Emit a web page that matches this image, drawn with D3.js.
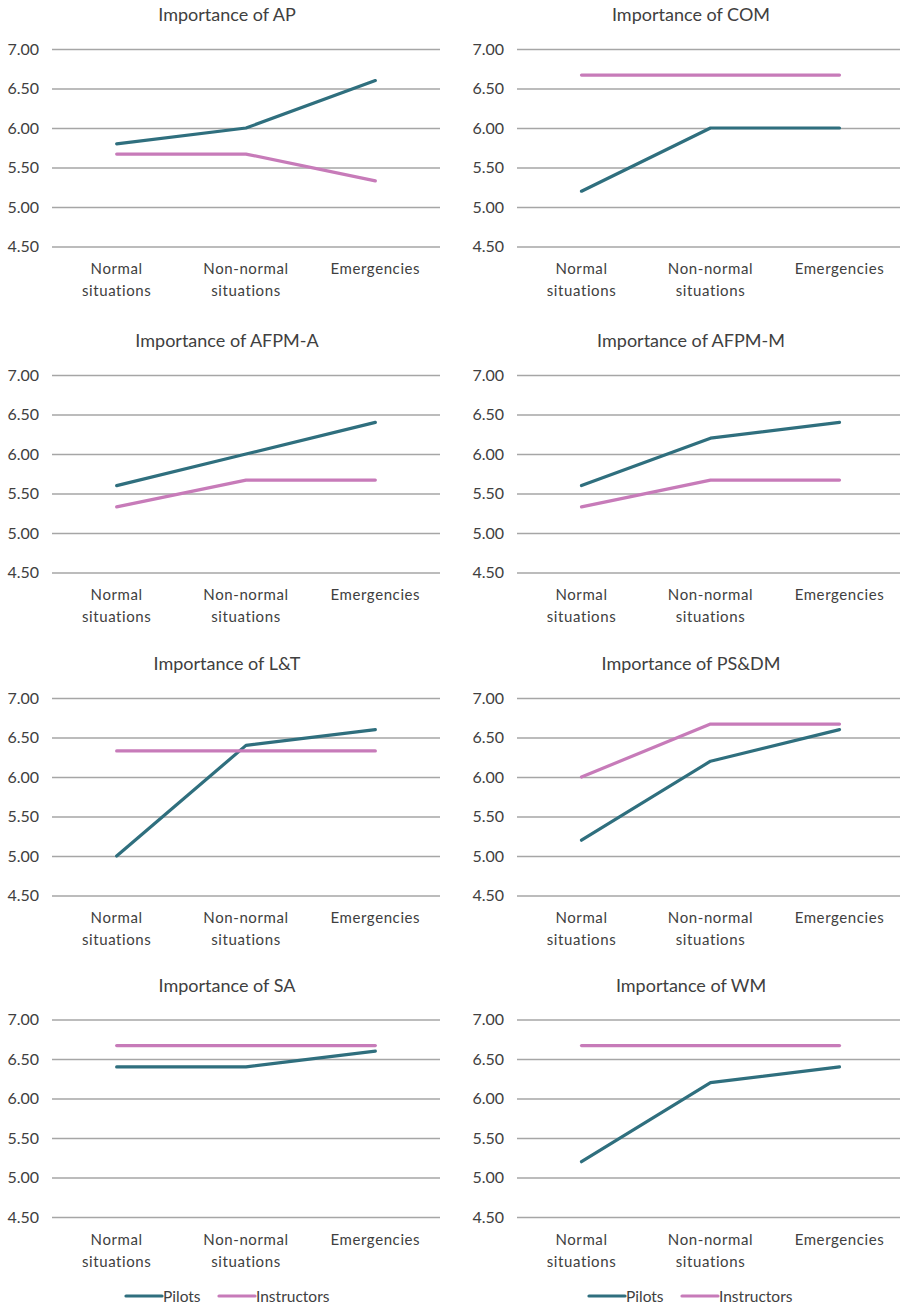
<!DOCTYPE html>
<html><head><meta charset="utf-8">
<script src="https://cdn.jsdelivr.net/npm/d3@7"></script>
<style>
html,body{margin:0;padding:0;background:#fff;}
text{font-family:Lato,"Open Sans",sans-serif;fill:#404040;}
</style></head>
<body>
<svg id="chart" width="900" height="1307"></svg>
<script>
const categories = [["Normal","situations"],["Non-normal","situations"],["Emergencies"]];
const seriesNames = ["Pilots","Instructors"];
const titles = ["Importance of AP","Importance of COM","Importance of AFPM-A","Importance of AFPM-M","Importance of L&T","Importance of PS&DM","Importance of SA","Importance of WM"];
const pilots = [
  [5.8,6.0,6.6],
  [5.2,6.0,6.0],
  [5.6,6.0,6.4],
  [5.6,6.2,6.4],
  [5.0,6.4,6.6],
  [5.2,6.2,6.6],
  [6.4,6.4,6.6],
  [5.2,6.2,6.4]
];
const instructors = [
  [5.67,5.67,5.33],
  [6.67,6.67,6.67],
  [5.33,5.67,5.67],
  [5.33,5.67,5.67],
  [6.33,6.33,6.33],
  [6.0,6.67,6.67],
  [6.67,6.67,6.67],
  [6.67,6.67,6.67]
];
const yTicks = [4.5,5.0,5.5,6.0,6.5,7.0];

const colors = {Pilots:"#2f6f7e", Instructors:"#c77bb9"};
const svg = d3.select("#chart");

const rowTops = [49, 375, 698, 1019.5];
const plotH = 197.5;
const colX = [[52,440],[517,904]];
const titleCx = [227, 691];

titles.forEach((title,i)=>{
  const row = Math.floor(i/2), col = i%2;
  const top = rowTops[row];
  const [x0,x1] = colX[col];
  const x = d3.scalePoint().domain(d3.range(categories.length)).range([x0,x1]).padding(0.5);
  const y = d3.scaleLinear().domain([4.5,7]).range([top+plotH, top]);
  const g = svg.append("g");

  const yAxis = d3.axisLeft(y).tickValues(yTicks).tickSize(-(x1-x0)).tickPadding(13).tickFormat(d3.format(".2f"));
  const ga = g.append("g").attr("transform",`translate(${x0},0)`).call(yAxis);
  ga.select(".domain").remove();
  ga.selectAll(".tick line").attr("stroke","#a6a6a6").attr("stroke-width",1.5);
  ga.selectAll(".tick text").attr("font-size",16).attr("fill","#404040").style("font-family","Lato, 'Open Sans', sans-serif");

  g.append("text").attr("x",titleCx[col]).attr("y",top-28)
    .attr("text-anchor","middle").attr("font-size",18).text(title);

  categories.forEach((lines,ci)=>{
    const t = g.append("text").attr("text-anchor","middle").attr("font-size",15).attr("letter-spacing",0.6);
    lines.forEach((ln,li)=>{
      t.append("tspan").attr("x",x(ci)).attr("y",top+225+li*22).text(ln);
    });
  });

  const line = d3.line().x((d,k)=>x(k)).y(d=>y(d));
  [["Pilots",pilots[i]],["Instructors",instructors[i]]].forEach(([name,vals])=>{
    g.append("path").datum(vals).attr("d",line).attr("fill","none")
      .attr("stroke",colors[name]).attr("stroke-width",3.2)
      .attr("stroke-linecap","round").attr("stroke-linejoin","round");
  });
});

const legends = [{x:126},{x:589}];
legends.forEach(l=>{
  const g = svg.append("g").attr("transform",`translate(${l.x},1296)`);
  let cx = 0;
  seriesNames.forEach((name,k)=>{
    g.append("line").attr("x1",cx).attr("x2",cx+36).attr("y1",0).attr("y2",0)
      .attr("stroke",colors[name]).attr("stroke-width",3.2).attr("stroke-linecap","round");
    g.append("text").attr("x",cx+37).attr("y",5.5).attr("font-size",15.5).text(name);
    cx += (k===0 ? 93 : 0);
  });
});
</script>
</body></html>
